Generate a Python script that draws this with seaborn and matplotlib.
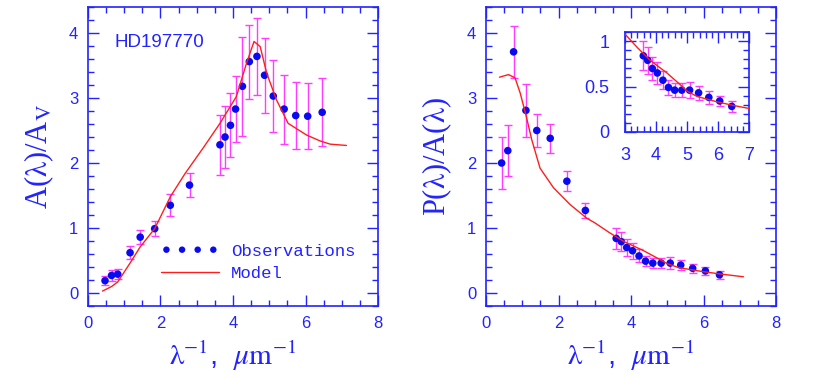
import numpy as np
import pandas as pd
import matplotlib
matplotlib.use("Agg")
import matplotlib.pyplot as plt
import seaborn as sns
from matplotlib.ticker import MultipleLocator, FormatStrFormatter

# extinction curve A(lambda)/A_V
ext_x = [0.47, 0.65, 0.82, 1.16, 1.44, 1.84, 2.27, 2.80, 3.64, 3.78, 3.93, 4.07, 4.26,
         4.45, 4.66, 4.87, 5.11, 5.41, 5.73, 6.06, 6.46]
ext_y = [0.19, 0.27, 0.29, 0.62, 0.86, 0.99, 1.35, 1.66, 2.28, 2.40, 2.58, 2.83, 3.18,
         3.56, 3.64, 3.35, 3.03, 2.83, 2.73, 2.72, 2.78]
ext_err = [0.07, 0.08, 0.08, 0.10, 0.11, 0.12, 0.17, 0.18, 0.46, 0.47, 0.49, 0.51, 0.76,
           0.57, 0.59, 0.58, 0.55, 0.53, 0.51, 0.51, 0.52]
ext_model_x = [0.40, 0.65, 0.82, 1.16, 1.44, 1.84, 2.27, 2.68, 3.20, 3.64, 4.09, 4.37,
               4.58, 4.75, 4.93, 5.20, 5.52, 6.03, 6.40, 6.68, 7.13]
ext_model_y = [0.03, 0.10, 0.17, 0.46, 0.71, 0.99, 1.48, 1.84, 2.25, 2.61, 3.02, 3.53,
               3.87, 3.79, 3.38, 2.97, 2.61, 2.43, 2.34, 2.29, 2.27]

# polarization ratio P(lambda)/A(lambda)
pol_x = [0.43, 0.60, 0.76, 1.10, 1.40, 1.77, 2.23, 2.74, 3.59, 3.73, 3.88, 4.04, 4.22,
         4.40, 4.60, 4.83, 5.08, 5.37, 5.70, 6.05, 6.44]
pol_y = [2.00, 2.19, 3.71, 2.81, 2.50, 2.38, 1.72, 1.27, 0.84, 0.79, 0.70, 0.65, 0.57,
         0.49, 0.46, 0.46, 0.46, 0.43, 0.38, 0.34, 0.28]
pol_err = [0.40, 0.39, 0.40, 0.41, 0.26, 0.22, 0.15, 0.11, 0.16, 0.15, 0.13, 0.12, 0.10,
           0.08, 0.08, 0.08, 0.09, 0.08, 0.07, 0.06, 0.06]
pol_model_x = [0.37, 0.62, 0.80, 0.94, 1.10, 1.26, 1.49, 1.86, 2.32, 2.78, 3.00, 3.40,
               3.81, 4.35, 4.78, 5.00, 5.32, 5.97, 6.50, 7.10]
pol_model_y = [3.32, 3.36, 3.31, 3.08, 2.74, 2.36, 1.92, 1.62, 1.36, 1.15, 1.08, 0.93,
               0.79, 0.65, 0.52, 0.45, 0.39, 0.33, 0.29, 0.25]

BLUE = "#2323ff"
DOT = "#0a0af0"
MAG = "#ff3cff"
RED = "#ff1e1e"

sns.set_theme(style="ticks")
plt.rcParams["font.family"] = ["Liberation Sans Narrow", "Liberation Sans", "DejaVu Sans"]
plt.rcParams["mathtext.fontset"] = "stix"
plt.rcParams["text.color"] = BLUE
plt.rcParams["axes.labelcolor"] = BLUE

fig = plt.figure(figsize=(8.17, 3.8), dpi=100)
ax1 = fig.add_axes([0.1077, 0.1947, 0.355, 0.7869])
ax2 = fig.add_axes([0.5949, 0.1947, 0.355, 0.7869])
axin = fig.add_axes([0.765, 0.6534, 0.152, 0.2616])


def style_axes(ax, xmaj, xmin, ymaj, ymin, fs, pad):
    for sp in ax.spines.values():
        sp.set_color(BLUE)
        sp.set_linewidth(1.2)
        sp.set_visible(True)
    ax.xaxis.set_major_locator(MultipleLocator(xmaj))
    ax.xaxis.set_minor_locator(MultipleLocator(xmin))
    ax.yaxis.set_major_locator(MultipleLocator(ymaj))
    ax.yaxis.set_minor_locator(MultipleLocator(ymin))
    ax.tick_params(which="both", direction="in", top=True, right=True, color=BLUE,
                   labelcolor=BLUE, labelsize=fs, width=1.0, pad=pad)
    ax.tick_params(which="major", length=8)
    ax.tick_params(which="minor", length=4.5)
    ax.set_facecolor("white")


def draw(ax, x, y, err, mx, my):
    ax.errorbar(x, y, yerr=err, fmt="none", ecolor=MAG, elinewidth=1.0,
                capsize=3, capthick=1.0, zorder=2)
    sns.scatterplot(x=x, y=y, ax=ax, color=DOT, s=30, edgecolor="none", zorder=3,
                    label="Observations", legend=False)
    sns.lineplot(x=mx, y=my, ax=ax, sort=False, estimator=None, color=RED, lw=1.0,
                 zorder=4, label="Model", legend=False)


draw(ax1, ext_x, ext_y, ext_err, ext_model_x, ext_model_y)
draw(ax2, pol_x, pol_y, pol_err, pol_model_x, pol_model_y)
draw(axin, pol_x, pol_y, pol_err, pol_model_x, pol_model_y)

for ax in (ax1, ax2):
    ax.set_xlim(0, 8)
    ax.set_ylim(-0.2, 4.4)
    style_axes(ax, 2, 0.5, 1, 0.2, 12, 7)
    ax.set_xlabel(r"$\mathrm{\lambda}^{-1}$,  $\mu\mathrm{m}^{-1}$",
                  fontsize=21, labelpad=6)

axin.set_xlim(3, 7)
axin.set_ylim(0, 1.1)
style_axes(axin, 1, 0.2, 0.5, 0.1, 13, 11)
axin.yaxis.set_major_formatter(FormatStrFormatter("%g"))
axin.set_xlabel("")
axin.set_ylabel("")

ax1.set_ylabel(r"A($\mathrm{\lambda}$)/A$_\mathrm{V}$", fontsize=22, labelpad=9,
               family="Liberation Serif")
ax2.set_ylabel(r"P($\mathrm{\lambda}$)/A($\mathrm{\lambda}$)", fontsize=22,
               labelpad=9, family="Liberation Serif")

ax1.text(0.74, 3.85, "HD197770", fontsize=13.5, color=BLUE, va="center", ha="left",
         family="Liberation Sans")

handles = [ax1.collections[-1], ax1.lines[-1]]
ax1.legend(handles, ["Observations", "Model"], scatterpoints=4, scatteryoffsets=[0.5],
           markerscale=0.85, frameon=False, loc="upper left",
           bbox_to_anchor=(2.02, 0.76), bbox_transform=ax1.transData,
           borderpad=0, borderaxespad=0, handlelength=3.3, handletextpad=0.7,
           labelspacing=0.42, prop={"family": "Liberation Mono", "size": 12.5},
           labelcolor=BLUE)

fig.savefig("out.png", dpi=100, facecolor="white")
